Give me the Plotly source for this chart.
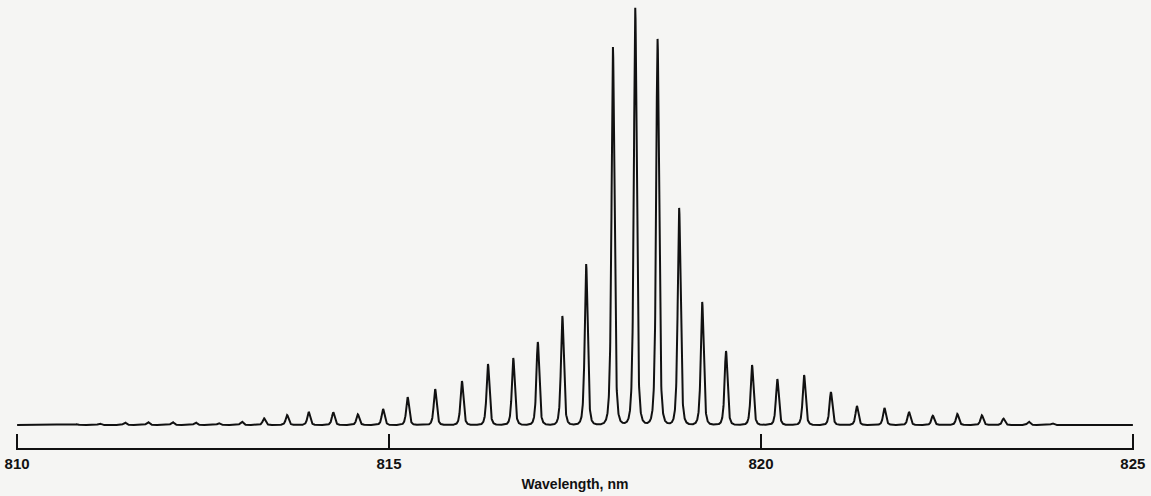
import numpy as np
import plotly.graph_objects as go

# Peak centres (nm) and heights (arbitrary units above baseline)
peak_wavelengths = [810.48, 810.80, 811.11, 811.45, 811.76, 812.09, 812.40, 812.71,
                    813.02, 813.32, 813.63, 813.92, 814.25, 814.58, 814.92, 815.25,
                    815.62, 815.98, 816.33, 816.67, 817.00, 817.33, 817.65, 818.01,
                    818.31, 818.61, 818.90, 819.21, 819.53, 819.88, 820.22, 820.58,
                    820.94, 821.29, 821.66, 821.99, 822.31, 822.64, 822.97, 823.26,
                    823.60, 823.92, 824.25, 824.58, 824.95]
peak_heights = [0.6, 0.8, 1.5, 2.5, 3.0, 3.0, 2.5, 1.8,
                3.4, 6.7, 10, 13, 12.7, 10.7, 16, 28,
                36, 44, 61, 67, 83, 109, 161, 378,
                417, 386, 217, 123, 74, 60, 46, 50,
                33, 19, 17, 13, 9.3, 11, 9.7, 6.4,
                3.4, 1.7, 0.5, 0.7, 0.6]
tick_values = [810, 815, 820, 825]
tick_labels = ["810", "815", "820", "825"]
x_title = "Wavelength, nm"

# Spectrum trace: each line rendered with a Pearson-VII (m=2) profile
line_width_nm = 0.034
wl = np.linspace(810, 825, 7501)
signal = np.zeros_like(wl)
for c, h in zip(peak_wavelengths, peak_heights):
    signal += h / (1 + ((wl - c) / line_width_nm) ** 2) ** 2

fig = go.Figure()
fig.add_trace(go.Scatter(x=wl, y=signal, mode="lines",
                         line=dict(color="#111111", width=2),
                         hoverinfo="skip", showlegend=False))

fig.update_layout(
    width=1151, height=496,
    margin=dict(l=16, r=17, t=5, b=48),
    paper_bgcolor="#f5f5f3", plot_bgcolor="#f5f5f3",
    xaxis=dict(range=[809.985, 825.015], showgrid=False, zeroline=False,
               showline=True, linecolor="#111111", linewidth=2,
               ticks="inside", ticklen=14, tickwidth=2, tickcolor="#111111",
               tickvals=tick_values, ticktext=tick_labels,
               tickfont=dict(family="Liberation Sans, Arial, sans-serif", size=15,
                             color="#111111", weight="bold"),
               ticklabelstandoff=1,
               title=dict(text=x_title, standoff=8,
                          font=dict(family="Liberation Sans, Arial, sans-serif", size=14,
                                    color="#111111", weight="bold"))),
    yaxis=dict(range=[-23, 420], visible=False, showgrid=False, zeroline=False),
)

fig.write_html("out.html")
